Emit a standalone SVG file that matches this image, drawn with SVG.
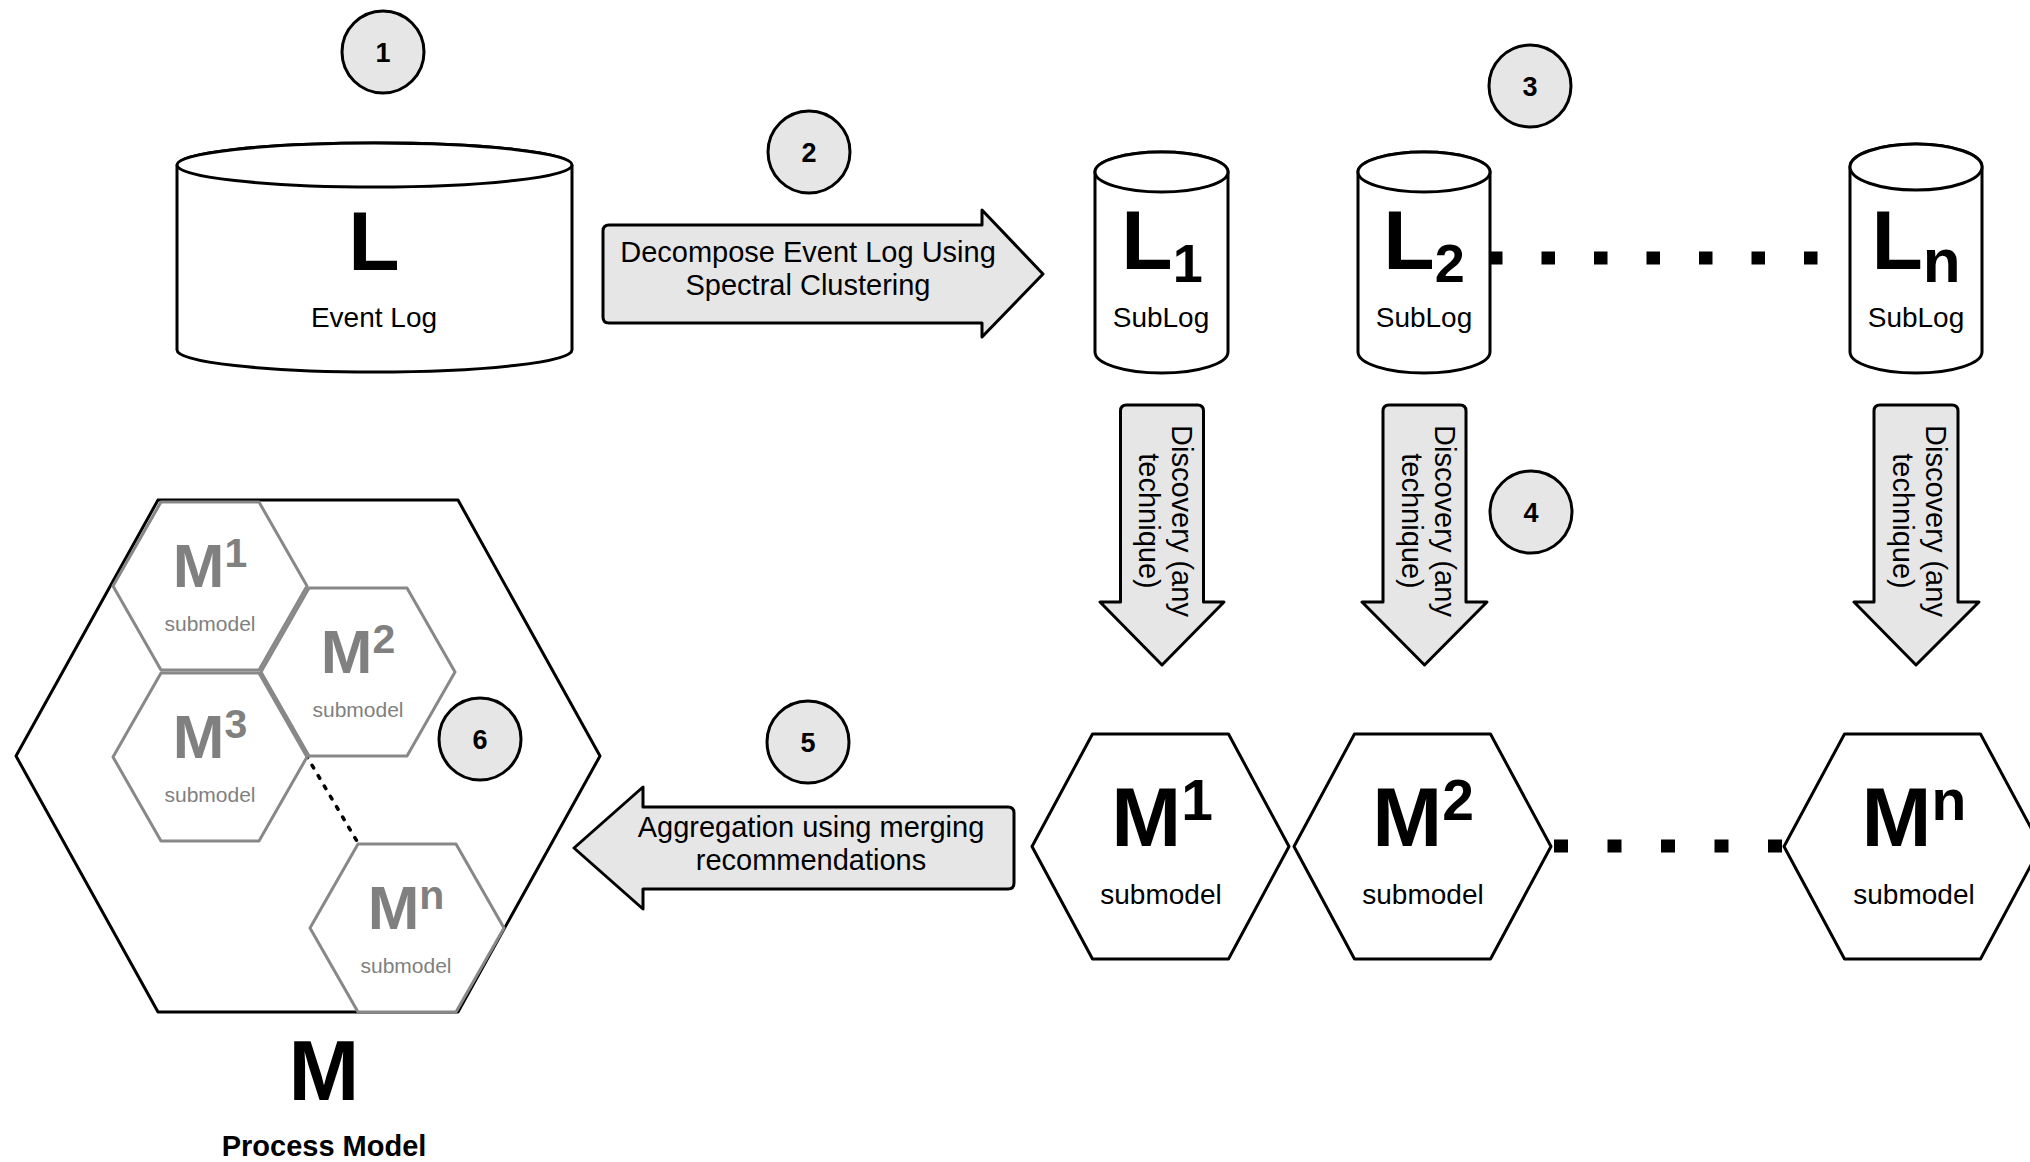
<svg xmlns="http://www.w3.org/2000/svg" width="2030" height="1162" viewBox="0 0 2030 1162">
  <style>
    text { font-family: "Liberation Sans", Arial, sans-serif; }
    .shape { fill: #ffffff; stroke: #000000; stroke-width: 3; stroke-linejoin: round; }
    .block { fill: #e6e6e6; stroke: #000000; stroke-width: 3; stroke-linejoin: round; }
    .badge { fill: #e6e6e6; stroke: #000000; stroke-width: 3; }
    .badge-num { font-size: 27px; font-weight: bold; text-anchor: middle; fill: #000; }
    .big { font-weight: bold; text-anchor: middle; fill: #000; }
    .lbl { font-size: 28px; text-anchor: middle; fill: #000; }
    .arrow-lbl { font-size: 29px; text-anchor: middle; fill: #000; }
    .sub-hex { fill: #ffffff; stroke: #888888; stroke-width: 3; stroke-linejoin: round; }
    .sub-big { font-weight: bold; text-anchor: middle; fill: #808080; }
    .sub-lbl { font-size: 21px; text-anchor: middle; fill: #808080; }
    .dots { stroke: #000; stroke-width: 13; fill: none; }
  </style>

  <!-- dotted "..." links between the series of sublogs / submodels -->
  <g id="connectors">
    <line class="dots" x1="1489" y1="258" x2="1850" y2="258" stroke-dasharray="13.5 39"/>
    <line class="dots" x1="1554" y1="846" x2="1784" y2="846" stroke-dasharray="14 39.5"/>
  </g>

  <!-- step badges -->
  <g id="badge-1"><circle class="badge" cx="383" cy="52" r="41"/><text class="badge-num" x="383" y="62">1</text></g>
  <g id="badge-2"><circle class="badge" cx="809" cy="152" r="41"/><text class="badge-num" x="809" y="162">2</text></g>
  <g id="badge-3"><circle class="badge" cx="1530" cy="86" r="41"/><text class="badge-num" x="1530" y="96">3</text></g>
  <g id="badge-4"><circle class="badge" cx="1531" cy="512" r="41"/><text class="badge-num" x="1531" y="522">4</text></g>
  <g id="badge-5"><circle class="badge" cx="808" cy="742" r="41"/><text class="badge-num" x="808" y="752">5</text></g>

  <!-- event log -->
  <g id="event-log">
    <path class="shape" d="M177,165 L177,350 A197.5,22 0 0 0 572,350 L572,165 A197.5,22 0 0 0 177,165 Z"/>
    <ellipse class="shape" cx="374.5" cy="165" rx="197.5" ry="22"/>
    <text class="big" x="374" y="270" font-size="84">L</text>
    <text class="lbl" x="374" y="327">Event Log</text>
  </g>

  <!-- decomposition arrow -->
  <g id="decompose">
    <path class="block" d="M609,225 L982,225 L982,210 L1043,274 L982,337 L982,323 L609,323 Q603,323 603,317 L603,231 Q603,225 609,225 Z"/>
    <text class="arrow-lbl" x="808" y="262">Decompose Event Log Using</text>
    <text class="arrow-lbl" x="808" y="295">Spectral Clustering</text>
  </g>

  <!-- sublogs -->
  <g id="sublog-1">
    <path class="shape" d="M1095,172 L1095,352 A66.5,21 0 0 0 1228,352 L1228,172 A66.5,20 0 0 0 1095,172 Z"/>
    <ellipse class="shape" cx="1161.5" cy="172" rx="66.5" ry="20"/>
    <text class="big" x="1162" y="269" font-size="84">L<tspan font-size="54" dy="13">1</tspan></text>
    <text class="lbl" x="1161" y="327">SubLog</text>
  </g>
  <g id="sublog-2">
    <path class="shape" d="M1358,172 L1358,352 A66,21 0 0 0 1490,352 L1490,172 A66,20 0 0 0 1358,172 Z"/>
    <ellipse class="shape" cx="1424" cy="172" rx="66" ry="20"/>
    <text class="big" x="1424" y="269" font-size="84">L<tspan font-size="54" dy="13">2</tspan></text>
    <text class="lbl" x="1424" y="327">SubLog</text>
  </g>
  <g id="sublog-n">
    <path class="shape" d="M1850,167 L1850,352 A66,21 0 0 0 1982,352 L1982,167 A66,23 0 0 0 1850,167 Z"/>
    <ellipse class="shape" cx="1916" cy="167" rx="66" ry="23"/>
    <text class="big" x="1916" y="269" font-size="84">L<tspan font-size="62" dy="13">n</tspan></text>
    <text class="lbl" x="1916" y="327">SubLog</text>
  </g>

  <!-- discovery arrows -->
  <g id="discover-1">
    <path class="block" d="M1126.5,405 L1197.5,405 Q1203.5,405 1203.5,411 L1203.5,602 L1224,602 L1162,665 L1100,602 L1120.5,602 L1120.5,411 Q1120.5,405 1126.5,405 Z"/>
    <text class="arrow-lbl" transform="translate(1162,521) rotate(90)"><tspan x="0" y="-10">Discovery (any</tspan><tspan x="0" y="23">technique)</tspan></text>
  </g>
  <g id="discover-2">
    <path class="block" d="M1389,405 L1460,405 Q1466,405 1466,411 L1466,602 L1487,602 L1424.5,665 L1362,602 L1383,602 L1383,411 Q1383,405 1389,405 Z"/>
    <text class="arrow-lbl" transform="translate(1424.5,521) rotate(90)"><tspan x="0" y="-10">Discovery (any</tspan><tspan x="0" y="23">technique)</tspan></text>
  </g>
  <g id="discover-n">
    <path class="block" d="M1880,405 L1952,405 Q1958,405 1958,411 L1958,602 L1979,602 L1916,665 L1854,602 L1874,602 L1874,411 Q1874,405 1880,405 Z"/>
    <text class="arrow-lbl" transform="translate(1916,521) rotate(90)"><tspan x="0" y="-10">Discovery (any</tspan><tspan x="0" y="23">technique)</tspan></text>
  </g>

  <!-- submodels -->
  <g id="submodel-1">
    <polygon class="shape" points="1032,846.5 1092.5,734 1228.5,734 1289,846.5 1228.5,959 1092.5,959"/>
    <text class="big" x="1162" y="846" font-size="84">M<tspan font-size="57" dy="-26">1</tspan></text>
    <text class="lbl" x="1161" y="904">submodel</text>
  </g>
  <g id="submodel-2">
    <polygon class="shape" points="1294,846.5 1354.5,734 1490.5,734 1551,846.5 1490.5,959 1354.5,959"/>
    <text class="big" x="1423" y="846" font-size="84">M<tspan font-size="57" dy="-26">2</tspan></text>
    <text class="lbl" x="1423" y="904">submodel</text>
  </g>
  <g id="submodel-n">
    <polygon class="shape" points="1784,846.5 1844.5,734 1980.5,734 2041,846.5 1980.5,959 1844.5,959"/>
    <text class="big" x="1914" y="846" font-size="84">M<tspan font-size="57" dy="-26">n</tspan></text>
    <text class="lbl" x="1914" y="904">submodel</text>
  </g>

  <!-- aggregation arrow -->
  <g id="aggregate">
    <path class="block" d="M1008,807 Q1014,807 1014,813 L1014,883 Q1014,889 1008,889 L643,889 L643,909 L574,848 L643,787 L643,807 Z"/>
    <text class="arrow-lbl" x="811" y="837">Aggregation using merging</text>
    <text class="arrow-lbl" x="811" y="870">recommendations</text>
  </g>

  <!-- merged process model -->
  <g id="process-model">
    <polygon class="shape" points="16,756 158,500 458,500 600,756 458,1012 158,1012"/>
    <!-- dotted continuation from the third submodel to the n-th -->
    <line x1="306" y1="755" x2="358" y2="843" stroke="#000" stroke-width="3.5" stroke-dasharray="3 9" stroke-linecap="round"/>
    <g id="pm-sub-1">
      <polygon class="sub-hex" points="113,586 161,502 259,502 307,586 259,670 161,670"/>
      <text class="sub-big" x="210" y="587" font-size="62">M<tspan font-size="41" dy="-20">1</tspan></text>
      <text class="sub-lbl" x="210" y="631">submodel</text>
    </g>
    <g id="pm-sub-2">
      <polygon class="sub-hex" points="261,672 309,588 407,588 455,672 407,756 309,756"/>
      <text class="sub-big" x="358" y="673" font-size="62">M<tspan font-size="41" dy="-20">2</tspan></text>
      <text class="sub-lbl" x="358" y="717">submodel</text>
    </g>
    <g id="pm-sub-3">
      <polygon class="sub-hex" points="113,757 161,673 259,673 307,757 259,841 161,841"/>
      <text class="sub-big" x="210" y="758" font-size="62">M<tspan font-size="41" dy="-20">3</tspan></text>
      <text class="sub-lbl" x="210" y="802">submodel</text>
    </g>
    <g id="pm-sub-n">
      <polygon class="sub-hex" points="310,928 358,844 456,844 504,928 456,1012 358,1012"/>
      <text class="sub-big" x="406" y="929" font-size="62">M<tspan font-size="41" dy="-20">n</tspan></text>
      <text class="sub-lbl" x="406" y="973">submodel</text>
    </g>
    <text class="big" x="324" y="1100" font-size="85">M</text>
    <text x="324" y="1156" font-size="29" font-weight="bold" text-anchor="middle">Process Model</text>
  </g>
  <g id="badge-6"><circle class="badge" cx="480" cy="739" r="41"/><text class="badge-num" x="480" y="749">6</text></g>
</svg>
